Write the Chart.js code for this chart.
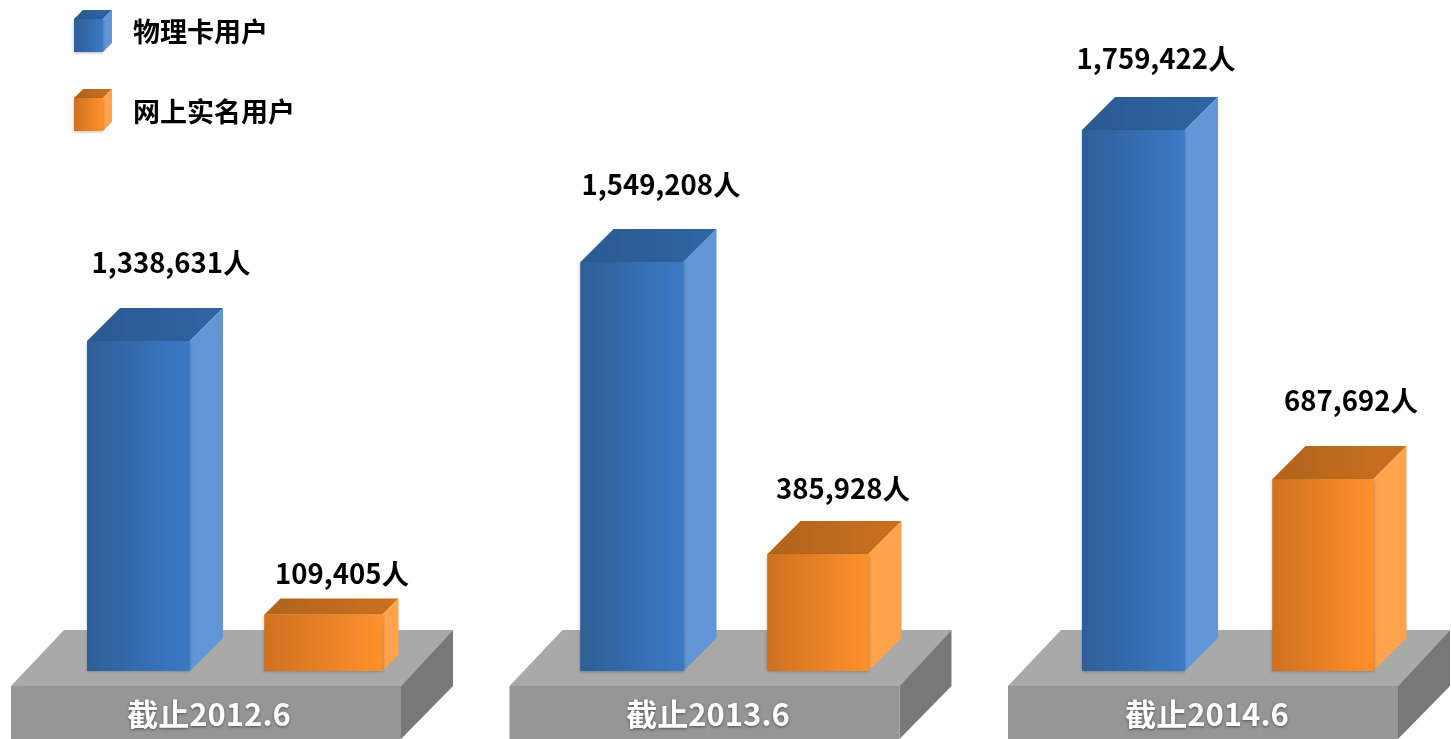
<!DOCTYPE html>
<html lang="zh">
<head>
<meta charset="utf-8">
<title>用户数量</title>
<script src="https://cdn.jsdelivr.net/npm/chart.js@4/dist/chart.umd.js"></script>
<style>
html,body{margin:0;padding:0;background:#fff;overflow:hidden}
canvas{display:block}
</style>
</head>
<body>
<canvas id="c" width="1451" height="739"></canvas>
<script>
// ---- data ----
const categories = ['截止2012.6', '截止2013.6', '截止2014.6'];
const seriesNames = ['物理卡用户', '网上实名用户'];
const physicalCardUsers = [1338631, 1549208, 1759422];
const realNameUsers = [109405, 385928, 687692];
// The picture's bars are not proportional to their values: this is its (non-linear) height axis.
const axisValues = [0, 109405, 385928, 687692, 1338631, 1549208, 1759422];
const axisShares = [0, 0.1044, 0.2163, 0.3549, 0.6100, 0.7560, 1];

// ---- style ----
const FONT = '"Noto Sans CJK SC","Noto Sans",sans-serif';
const looks = [
  {solid:'#3872b8', front:['#2e5f98','#3b79c6'], top:['#2a5a92','#2f64a3'], side:'#6095d6'},
  {solid:'#f08528', front:['#cf7020','#ff912b'], top:['#b0641d','#cb701f'], side:'#ffa44c'}
];
// hand placement of the original drawing, per series and group
const barNudge = [[4,-3.2,-2.4],[5,-1.2,3.1]];
const barGrow = [[0,0,0],[15,-2,-2]];
const barDepth = [[33,33,33],[16,33,33]];
const labelShift = [[32.5,29,22.5],[18.5,25,28]];
const labelLift = [[78,77,71],[41,65,78]];
const GROUP_START = 226.5, GROUP_STEP = 500.7;
const DECK_LEFT = 11, DECK_STEP = 498.5, DECK_WIDTH = 390;
const CAPTION_LEFT = 209, CAPTION_STEP = 499;

class StoppedScale extends Chart.LinearScale {
  static id = 'heightStops';
  static defaults = Chart.LinearScale.defaults;
  getPixelForValue(v) {
    if (v === null || v === undefined) return NaN;
    let i = 1;
    while (i < axisValues.length - 1 && v > axisValues[i]) i++;
    const t = (v - axisValues[i-1]) / (axisValues[i] - axisValues[i-1]);
    return this.getPixelForDecimal(axisShares[i-1] + t * (axisShares[i] - axisShares[i-1]));
  }
}
class GroupScale extends Chart.CategoryScale {
  static id = 'groupBand';
  static defaults = Chart.CategoryScale.defaults;
  getPixelForValue(v) {
    if (v === null || v === undefined) return NaN;
    return this.left + GROUP_START + v * GROUP_STEP;
  }
}
Chart.register(StoppedScale, GroupScale);

function poly(ctx, pts, fill) {
  ctx.beginPath();
  pts.forEach((p,i)=> i ? ctx.lineTo(p[0],p[1]) : ctx.moveTo(p[0],p[1]));
  ctx.closePath();
  ctx.fillStyle = fill;
  ctx.fill();
}
function hGrad(ctx, x0, x1, cols) {
  const g = ctx.createLinearGradient(x0,0,x1,0);
  g.addColorStop(0,cols[0]); g.addColorStop(1,cols[1]);
  return g;
}
function box(ctx, l, r, t, b, d, look) {
  poly(ctx, [[l,t],[l+d,t-d],[r+d,t-d],[r,t]], hGrad(ctx,l,r+d,look.top));
  poly(ctx, [[r,t],[r+d,t-d],[r+d,b-d],[r,b]], look.side);
  ctx.save();
  ctx.shadowColor='rgba(0,0,0,0.28)'; ctx.shadowBlur=3; ctx.shadowOffsetY=1;
  poly(ctx, [[l,t],[r,t],[r,b],[l,b]], hGrad(ctx,l,r,look.front));
  ctx.restore();
}

const scene3d = {
  id:'scene3d',
  afterDatasetsUpdate(chart) {
    chart.data.datasets.forEach((ds,di)=>{
      chart.getDatasetMeta(di).data.forEach((bar,i)=>{
        bar.x += barNudge[di][i];
        bar.width += barGrow[di][i];
      });
    });
  },
  beforeDatasetsDraw(chart) {
    const ctx = chart.ctx;
    categories.forEach((name,i)=>{
      const l = DECK_LEFT + i*DECK_STEP, r = l + DECK_WIDTH;
      poly(ctx, [[l,686],[l+53,630],[r+52,630],[r,686]], '#a9a9a9');
      poly(ctx, [[r,686],[r+52,630],[r+52,686],[r,739]], '#787878');
      poly(ctx, [[l,686],[r,686],[r,739],[l,739]], '#969696');
    });
  },
  afterDatasetsDraw(chart) {
    const ctx = chart.ctx;
    chart.data.datasets.forEach((ds,di)=>{
      chart.getDatasetMeta(di).data.forEach((bar,i)=>{
        const l = bar.x-bar.width/2, r = bar.x+bar.width/2;
        box(ctx,l,r,bar.y,bar.base,barDepth[di][i],looks[di]);
        ctx.font = 'bold 27.5px '+FONT;
        ctx.fillStyle = '#000';
        ctx.textAlign='center'; ctx.textBaseline='middle';
        ctx.fillText(ds.data[i].toLocaleString('en-US')+'人', bar.x+labelShift[di][i], bar.y-labelLift[di][i]);
      });
    });
    // deck captions
    categories.forEach((name,i)=>{
      ctx.save();
      ctx.font='bold 31px '+FONT;
      ctx.fillStyle='#fff';
      ctx.textAlign='center'; ctx.textBaseline='middle';
      ctx.shadowColor='rgba(0,0,0,0.45)'; ctx.shadowBlur=3; ctx.shadowOffsetY=1;
      ctx.fillText(name,CAPTION_LEFT+i*CAPTION_STEP,714);
      ctx.restore();
    });
    // legend
    seriesNames.forEach((name,i)=>{
      const y = 19+i*79;
      box(ctx,74,103,y,y+33,9,looks[i]);
      ctx.font='bold 27px '+FONT;
      ctx.fillStyle='#000';
      ctx.textAlign='left'; ctx.textBaseline='middle';
      ctx.fillText(name,133,y+13+i);
    });
  }
};

new Chart(document.getElementById('c'), {
  type:'bar',
  data:{
    labels:categories,
    datasets:[
      {label:seriesNames[0], data:physicalCardUsers, backgroundColor:looks[0].solid},
      {label:seriesNames[1], data:realNameUsers, backgroundColor:looks[1].solid}
    ]
  },
  options:{
    responsive:false,
    animation:false,
    categoryPercentage:0.735,
    barPercentage:0.56,
    layout:{padding:{top:130,bottom:68}},
    plugins:{legend:{display:false},tooltip:{enabled:false}},
    scales:{
      x:{type:'groupBand',display:false},
      y:{type:'heightStops',display:false,min:0,max:1759422}
    }
  },
  plugins:[scene3d]
});
</script>
</body>
</html>
